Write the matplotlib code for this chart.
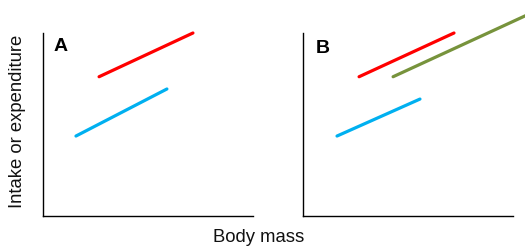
import matplotlib
matplotlib.use('Agg')
import matplotlib.pyplot as plt

plt.rcParams['font.family'] = ['Liberation Sans', 'DejaVu Sans']

# panel A lines (x0, x1), (y0, y1)
red_a_x = [2.67, 7.14]
red_a_y = [7.61, 10.0]
blue_a_x = [1.57, 5.90]
blue_a_y = [4.37, 6.94]

# panel B lines
red_b_x = [2.67, 7.19]
red_b_y = [7.61, 10.0]
green_b_x = [4.29, 11.0]
green_b_y = [7.61, 11.16]
blue_b_x = [1.62, 5.57]
blue_b_y = [4.37, 6.39]

RED = '#ff0000'
BLUE = '#00b0f0'
GREEN = '#77933c'

fig = plt.figure(figsize=(5.25, 2.46), dpi=100)
ax_a = fig.add_axes([43/525, 30/246, 210/525, 183/246])
ax_b = fig.add_axes([303/525, 30/246, 210/525, 183/246])

for ax in (ax_a, ax_b):
    ax.set_xlim(0, 10)
    ax.set_ylim(0, 10)
    ax.set_xticks([])
    ax.set_yticks([])
    for s in ('top', 'right'):
        ax.spines[s].set_visible(False)
    for s in ('left', 'bottom'):
        ax.spines[s].set_linewidth(1.0)
        ax.spines[s].set_color('black')

lw = 2.3
ax_a.plot(red_a_x, red_a_y, color=RED, lw=lw, solid_capstyle='round', clip_on=False)
ax_a.plot(blue_a_x, blue_a_y, color=BLUE, lw=lw, solid_capstyle='round', clip_on=False)

ax_b.plot(red_b_x, red_b_y, color=RED, lw=lw, solid_capstyle='round', clip_on=False)
ax_b.plot(green_b_x, green_b_y, color=GREEN, lw=lw, solid_capstyle='round', clip_on=False)
ax_b.plot(blue_b_x, blue_b_y, color=BLUE, lw=lw, solid_capstyle='round', clip_on=False)

ax_a.text(0.052, 0.97, 'A', transform=ax_a.transAxes, fontsize=14, fontweight='bold',
          va='top', ha='left')
ax_b.text(0.062, 0.96, 'B', transform=ax_b.transAxes, fontsize=14, fontweight='bold',
          va='top', ha='left')

fig.text(18/525, 1 - 121/246, 'Intake or expenditure', rotation=90, fontsize=13.3,
         va='center', ha='center', color='#111111')
fig.text(259/525, 1 - 237/246, 'Body mass', fontsize=13.3, va='center', ha='center',
         color='#111111')

fig.savefig('out.png', dpi=100)
